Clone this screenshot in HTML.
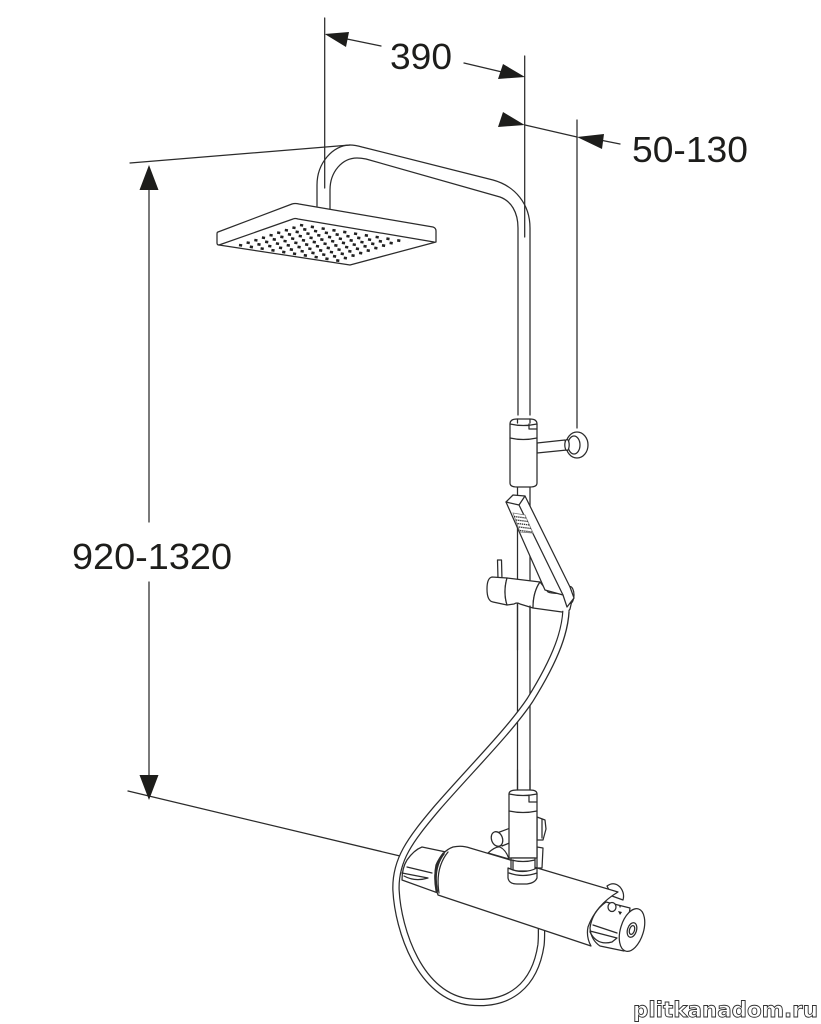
<!DOCTYPE html>
<html>
<head>
<meta charset="utf-8">
<style>
html,body{margin:0;padding:0;background:#fff;width:821px;height:1024px;overflow:hidden}
svg{display:block}
text{font-family:"Liberation Sans",sans-serif;fill:#1d1d1b;font-size:36px}
.l{fill:none;stroke:#2b2b2b;stroke-width:1.25;stroke-linejoin:round;stroke-linecap:round}
.w{fill:#fff;stroke:#2b2b2b;stroke-width:1.25;stroke-linejoin:round;stroke-linecap:round}
.a{fill:#1d1d1b;stroke:none}
.d{fill:none;stroke:#222;stroke-width:2.6;stroke-dasharray:3.2 7.73}
</style>
</head>
<body>
<svg width="821" height="1024" viewBox="0 0 821 1024" xmlns="http://www.w3.org/2000/svg">
<rect width="821" height="1024" fill="#fff"/>

<!-- dimension lines -->
<path class="l" d="M324.7 18V188M524.7 56V237M577 120V428"/>
<path class="l" d="M130 163L350 145M128 791L400 856"/>
<path class="l" d="M347 39L381 46M464 63L502 72M525 125L577 137M600 140L620 144"/>
<path class="l" d="M149 188V522M149 582V776"/>
<path class="a" d="M324.7 34L349 32L346 47ZM525 77L503 64L498 79ZM524.7 125L503 112L498 127ZM577 137L604 134L602 149ZM149 165L158.500 190H139.500ZM149 800L158.500 775H139.500Z"/>
<text x="390" y="69" textLength="62" lengthAdjust="spacingAndGlyphs">390</text>
<text x="632" y="162" textLength="116" lengthAdjust="spacingAndGlyphs">50-130</text>
<text x="72" y="569" textLength="160" lengthAdjust="spacingAndGlyphs">920-1320</text>

<!-- overhead pipe -->
<path class="l" d="M317 206V185C317 163 333 145 350 145Q355 145 362 147L493 180C515 186 530 204 530 228V415"/>
<path class="l" d="M330 209V190C330 172 342 158 357 158Q361 158 366 159L500 197C511 201 518 212 518 228V415"/>

<!-- shower head -->
<path class="w" d="M218 232L292 204Q295 203 299 204L433 227Q436 228 436 231V242L350 265L219 245Q217 245 217 243V234Q217 232 218 232Z"/>
<path class="l" d="M219 245L293 219Q295 218 298 219L434 242"/>
<path class="d" d="M300 225L408 242M292.400 227.500L400.400 244.500M284.800 230L392.800 247M277.100 232.500L385.100 249.500M269.500 235L377.500 252M261.900 237.500L369.900 254.500M254.300 240L362.300 257M246.600 242.500L354.600 259.500M239 245L347 262"/>

<!-- rod -->
<path class="l" d="M517.500 487V795M530 487V795"/>

<!-- upper bracket -->
<path class="w" d="M537 443L565 440L567 450L537 453Z"/>
<ellipse class="w" cx="577" cy="445" rx="11" ry="13"/>
<ellipse class="l" cx="574" cy="445" rx="6" ry="9"/>
<ellipse class="w" cx="567" cy="445" rx="2.200" ry="5.500"/>
<path class="w" d="M510 424Q510 419 517 419H530Q537 419 537 424V483Q537 487 530 487H517Q510 487 510 483Z"/>
<path class="l" d="M510 424Q523 427 537 424M510 438Q523 441 537 438M517.500 419V423M530 419V423M529 424V429H537"/>

<!-- slider -->
<path class="w" d="M497.500 560H501.500L502 580L498 579Z"/>
<path class="w" d="M492 577Q487 578 487 589Q487 601 493 602L507 605Q503 592 507 578Z"/>
<path class="w" d="M507 578L540 582Q533 592 533 608L520 604Q517 602 514 604L507 605Q503 592 507 578Z"/>
<path class="l" d="M517.500 604V650M530 606V650"/>
<path class="w" d="M540 582L548 592Q552 594 562 593L573 596L570 609Q569 612 562 612L533 608Q533 592 540 582Z"/>
<ellipse class="w" cx="570" cy="595" rx="4" ry="8.500"/>

<!-- handset -->
<path class="w" d="M506 502L513 495L525 496L570 587L574 598L567 607L563 595L545 590Z"/>
<path class="l" d="M506 502L519 505L563 595M519 505L525 496"/>
<path d="M513 513l12 2 8 18-13-1z" fill="#fff" stroke="#777" stroke-width=".8"/>
<path d="M514 516.500l12 1.500M516 520l12 1.500M517.500 523.500l12 1.500M519 527l12 1.500M520 530.500l12 1.500" stroke="#333" stroke-width="1.300" stroke-dasharray="1.400 .7" fill="none"/>

<!-- hose -->
<path fill="none" stroke="#2b2b2b" stroke-width="7.500" stroke-linecap="butt" d="M566 611C565 630 558 655 530 700C510 730 470 770 437 808C410 840 395 860 396 890C398 930 420 997 470 1002C510 1006 535 985 541 945Q542 935 541 915"/>
<path fill="none" stroke="#fff" stroke-width="5" stroke-linecap="butt" d="M566 610C565 630 558 655 530 700C510 730 470 770 437 808C410 840 395 860 396 890C398 930 420 997 470 1002C510 1006 535 985 541 945Q542 935 541 914"/>

<!-- valve behind body -->
<path class="w" d="M537 817L545 820L546 829L543 840H537ZM537 847L543 848L542 868H537Z"/>
<path class="l" d="M542 819V838"/>

<!-- mixer left cup -->
<path class="w" d="M407 860Q414 850 422 847L446 852L438 893L402 880Q402 868 407 860Z"/>
<path class="l" d="M407 867L432 873M402 873L428 878M404 876Q415 882 428 878"/>

<!-- under body bracket -->
<path class="w" d="M607 886Q614 881 620 887Q625 893 623 900L612 896Z"/>

<!-- side knob + wedge -->
<path class="w" d="M488 853Q496 846 500 847Q506 850 509 859Z"/>
<path class="w" d="M497 833L513 827L517 837L517 840L502 846Z"/>
<ellipse class="w" cx="497" cy="839" rx="5.500" ry="7.500" transform="rotate(-20 497 839)"/>

<!-- main body -->
<path class="w" d="M453 847Q462 845 470 848L618 892Q596 905 588 927Q586 937 591 946L438 895Q433 880 436 865Q442 851 453 847Z"/>
<path fill="none" stroke="#2b2b2b" stroke-width="2.600" d="M444 853Q432 868 437 892"/>
<path class="l" d="M448 852Q435 868 439 893"/>

<!-- mount sleeve -->
<path class="w" d="M509 794Q509 790 517 790H530Q537 790 537 794V858H509Z"/>
<path class="l" d="M509 794Q523 797 537 794M509 811Q523 814 537 811M529 795V802H537"/>
<path class="w" d="M511 858H535V871H511Z"/>
<path class="l" d="M513 860V871M511 860Q523 863 535 860"/>
<path class="w" d="M508 868Q523 875 537 868V878Q535 883 527 884H517Q509 884 508 878Z"/>
<path class="l" d="M509 873Q523 878 537 873"/>
<path class="l" d="M517.500 770V790M530 770V790"/>

<!-- thermostat end -->
<path class="w" d="M606 902L630 908L624 951L600 946Q591 940 590 928Q592 912 606 902Z"/>
<path class="l" d="M593 925L617 933M590 931L617 938M590 932Q597 946 612 942L617 938"/>
<ellipse class="w" cx="612" cy="907" rx="4" ry="4.500"/>
<path class="a" d="M618 911l4 1-2 3zM619 906l2 .5-1 1.500z"/>
<ellipse class="w" cx="632" cy="930" rx="11.500" ry="22" transform="rotate(17 632 930)"/>
<ellipse class="l" cx="632" cy="930" rx="4.500" ry="7.500" transform="rotate(17 632 930)"/>
<ellipse class="l" cx="632" cy="930" rx="2.500" ry="4.500" transform="rotate(17 632 930)"/>

<!-- watermark -->
<text x="633" y="1017" textLength="185" lengthAdjust="spacingAndGlyphs" style="font-family:'DejaVu Sans',sans-serif;font-size:21px;font-weight:bold;fill:#fff;stroke:#333;stroke-width:.9">plitkanadom.ru</text>
</svg>
</body>
</html>
